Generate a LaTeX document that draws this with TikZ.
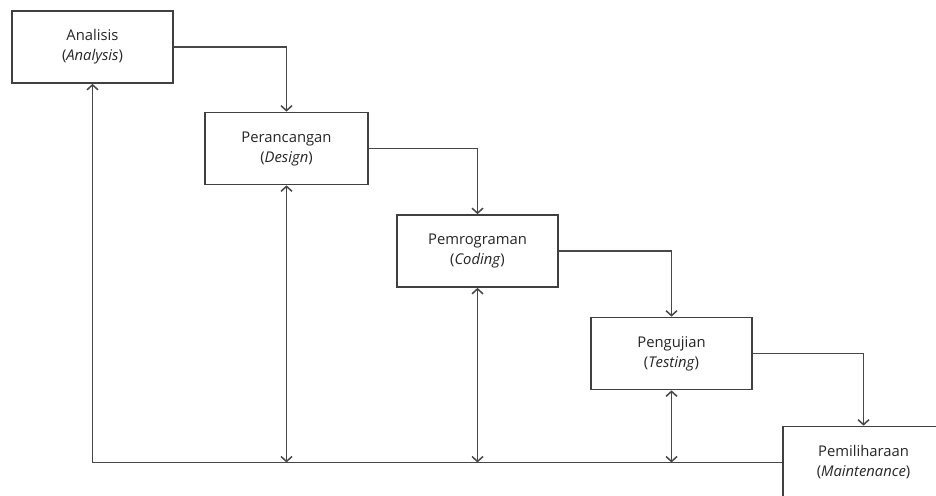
\documentclass[tikz,border=0pt]{standalone}
\usepackage{fontspec}
\setmainfont{Open Sans}
\usepackage{tikz}
\usetikzlibrary{positioning, arrows.meta}

\begin{document}
\begin{tikzpicture}[
      x=1pt, y=-1pt,
      font=\fontsize{14.8}{20}\selectfont,
      phase/.style={draw=black!75, fill=white, line width=1.7pt, text=black!85,
                    minimum width=161pt, minimum height=72pt, align=center, inner sep=2pt},
      arr/.style={-{Straight Barb[length=5pt, width=11pt]}, line width=1.5pt, draw=black!72},
      dbl/.style={{Straight Barb[length=5pt, width=11pt]}-{Straight Barb[length=5pt, width=11pt]},
                  line width=1.5pt, draw=black!72}]
    \useasboundingbox[fill=white] (0,0) rectangle (936,495);
    \clip (0,0) rectangle (936,495);
    \node[phase] (b1) at (92.5,47)    {Analisis\\(\textit{Analysis})};
    \node[phase, minimum width=163pt] (b2) at (286.5,148.5) {Perancangan\\(\textit{Design})};
    \node[phase] (b3) at (477.5,251)  {Pemrograman\\(\textit{Coding})};
    \node[phase] (b4) at (671.5,353.5) {Pengujian\\(\textit{Testing})};
    \node[phase] (b5) at (863.5,462.5) {Pemiliharaan\\(\textit{Maintenance})};
    % alur turun
    \draw[arr] (b1.east) -| (b2.north);
    \draw[arr] (b2.east) -| (b3.north);
    \draw[arr] (b3.east) -| (b4.north);
    \draw[arr] (b4.east) -| (b5.north);
    % umpan balik
    \draw[arr] (b5.west) -| (b1.south);
    \foreach \i in {2,3,4}{
      \draw[dbl] (b\i.south) -- (b\i.south |- b5.west);
    }
  \end{tikzpicture}
\end{document}
